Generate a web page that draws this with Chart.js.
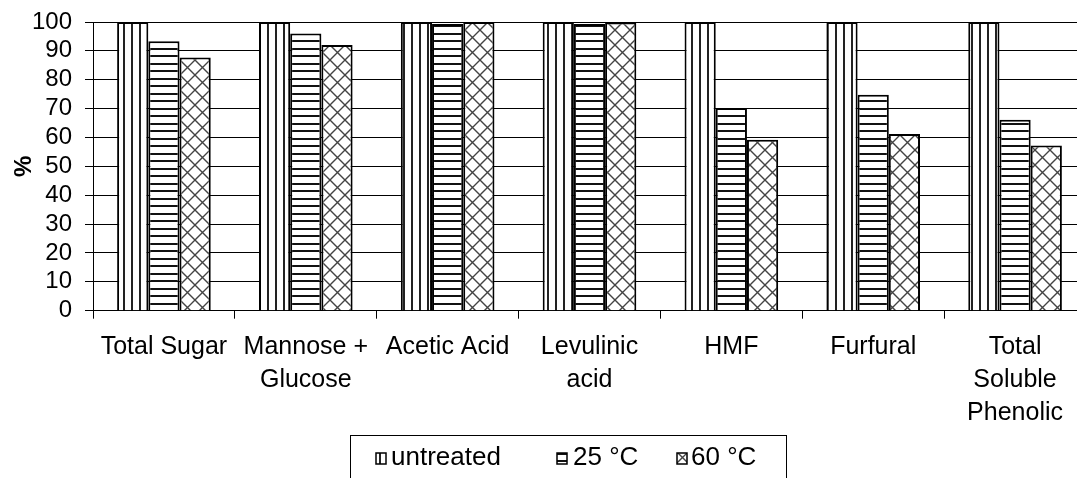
<!DOCTYPE html>
<html>
<head>
<meta charset="utf-8">
<script src="https://cdn.jsdelivr.net/npm/chart.js@4/dist/chart.umd.min.js"></script>
<style>
  html, body { margin: 0; padding: 0; background: #fff; overflow: hidden; width: 1077px; height: 478px; }
  canvas { display: block; }
</style>
</head>
<body>
<canvas id="c" width="1100" height="478"></canvas>
<script>
const categories = [['Total Sugar'], ['Mannose +', 'Glucose'], ['Acetic Acid'], ['Levulinic', 'acid'], ['HMF'], ['Furfural'], ['Total', 'Soluble', 'Phenolic']];
const seriesNames = ['untreated', '25 °C', '60 °C'];
const untreated = [100, 100, 100, 100, 100, 100, 100];
const t25 = [93.3, 96, 99.3, 99.3, 70.2, 74.8, 66.1];
const t60 = [87.7, 92, 100, 99.8, 59.2, 61.2, 57.2];
const yMin = 0, yMax = 100, yStep = 10;
const yTitle = '%';

const FONT = 'Liberation Sans, Arial, sans-serif';

function makePattern(w, h, draw) {
  const c = document.createElement('canvas');
  c.width = w; c.height = h;
  const g = c.getContext('2d');
  g.fillStyle = '#fff';
  g.fillRect(0, 0, w, h);
  draw(g);
  return document.getElementById('c').getContext('2d').createPattern(c, 'repeat');
}
const patVert = makePattern(8, 8, g => {
  g.fillStyle = '#222';
  g.fillRect(3, 0, 2, 8);
});
const patHorz = makePattern(15, 15, g => {
  g.fillStyle = '#111';
  g.fillRect(0, 3, 15, 2);
  g.fillRect(0, 10, 15, 2);
});
const patCross = makePattern(15, 15, g => {
  g.strokeStyle = '#444';
  g.lineWidth = 1.4;
  g.beginPath();
  g.moveTo(-2, -2); g.lineTo(17, 17);
  g.moveTo(17, -2); g.lineTo(-2, 17);
  g.stroke();
});
const patterns = [patVert, patHorz, patCross];

const boxLegend = {
  id: 'boxLegend',
  afterDraw(chart) {
    const ctx = chart.ctx;
    ctx.save();
    ctx.strokeStyle = '#000';
    ctx.lineWidth = 1;
    ctx.strokeRect(350.5, 435.5, 436, 60);
    const swX = [376, 557, 677];
    const txX = [391, 573, 691];
    ctx.font = '26px ' + FONT;
    ctx.textBaseline = 'alphabetic';
    for (let i = 0; i < seriesNames.length; i++) {
      ctx.fillStyle = patterns[i];
      ctx.fillRect(swX[i], 453, 10, 11);
      ctx.strokeStyle = '#000';
      ctx.lineWidth = 1.5;
      ctx.strokeRect(swX[i], 453, 10, 11);
      ctx.fillStyle = '#000';
      ctx.fillText(seriesNames[i], txX[i], 465);
    }
    ctx.restore();
  }
};

const data = {
  labels: categories,
  datasets: [untreated, t25, t60].map((vals, i) => ({
    label: seriesNames[i],
    data: vals,
    backgroundColor: patterns[i],
    borderColor: '#000',
    borderWidth: 2,
    categoryPercentage: 0.66,
    barPercentage: 1.0
  }))
};

new Chart(document.getElementById('c'), {
  type: 'bar',
  data,
  plugins: [boxLegend],
  options: {
    responsive: false,
    animation: false,
    events: [],
    layout: { padding: { top: 22, right: 14, bottom: 0, left: 0 } },
    plugins: { legend: { display: false }, tooltip: { enabled: false } },
    scales: {
      x: {
        afterFit(scale) { scale.height = 167.3; },
        grid: { offset: true, drawOnChartArea: false, drawTicks: true, tickLength: 8, color: '#000', lineWidth: 1 },
        border: { display: true, color: '#000', width: 1 },
        ticks: {
          color: '#000',
          font: { family: FONT, size: 25, lineHeight: 1.32 },
          maxRotation: 0, minRotation: 0, autoSkip: false, padding: 12
        }
      },
      y: {
        min: yMin, max: yMax,
        afterFit(scale) { scale.width = 93; },
        ticks: { stepSize: yStep, autoSkip: false, color: '#000', font: { family: FONT, size: 24, lineHeight: 0.6 }, padding: 13 },
        grid: { color: '#000', lineWidth: 1, drawTicks: true, tickLength: 8 },
        border: { display: true, color: '#000', width: 1 },
        title: { display: true, text: yTitle, color: '#000', font: { family: FONT, size: 24, weight: 'bold' }, padding: { top: 10, bottom: 0 } }
      }
    }
  }
});
</script>
</body>
</html>
